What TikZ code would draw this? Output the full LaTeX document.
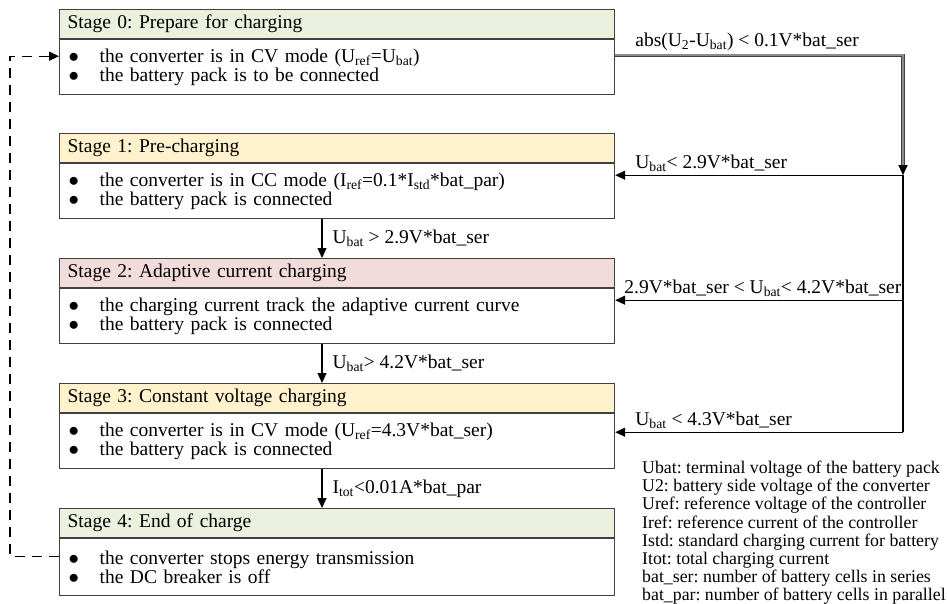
\documentclass[tikz,border=0pt]{standalone}
\usepackage{fontspec}
\setmainfont{Liberation Serif}
\usetikzlibrary{arrows.meta,calc}
\definecolor{hgreen}{RGB}{235,241,222}
\definecolor{hyellow}{RGB}{255,242,204}
\definecolor{hpink}{RGB}{242,220,219}
\definecolor{boxc}{RGB}{64,64,64}
\newcommand{\sbs}[1]{\textsubscript{#1}}
\newcommand{\bl}{\hspace*{9pt}\makebox[31pt][l]{$\bullet$}}
\frenchspacing
\begin{document}
\begin{tikzpicture}[x=1pt,y=-1pt,
  every node/.style={font=\fontsize{19.5}{19.3}\selectfont},
  hdr/.style={draw=boxc, line width=1.2pt, anchor=north west, minimum width=555pt,
    minimum height=29pt, text width=539pt, inner xsep=8pt, inner ysep=0pt, align=left},
  bdy/.style={draw=boxc, line width=1.2pt, anchor=north, minimum width=555pt,
    minimum height=55pt, text width=555pt, inner xsep=0pt, inner ysep=0pt, align=left, fill=white},
  arr/.style={line width=1.2pt, -{Triangle[length=10pt,width=9pt]}},
  conn/.style={line width=1.2pt},
  dbl/.style={draw=black!75, line width=0.9pt, double=black!45, double distance=1.4pt},
  dsh/.style={line width=1.2pt, dash pattern=on 10pt off 7pt},
  lbl/.style={inner sep=2pt},
]
\useasboundingbox (0,0) rectangle (947,604);

% Stage 0
\node[hdr, fill=hgreen] (h0) at (59,9) {Stage 0: Prepare for charging};
\node[bdy] (b0) at (h0.south) {\bl the converter is in CV mode (U\sbs{ref}=U\sbs{bat})\\\bl the battery pack is to be connected};
% Stage 1
\node[hdr, fill=hyellow] (h1) at (59,133) {Stage 1: Pre-charging};
\node[bdy] (b1) at (h1.south) {\bl the converter is in CC mode (I\sbs{ref}=0.1*I\sbs{std}*bat\_par)\\\bl the battery pack is connected};
% Stage 2
\node[hdr, fill=hpink] (h2) at (59,258) {Stage 2: Adaptive current charging};
\node[bdy] (b2) at (h2.south) {\bl the charging current track the adaptive current curve\\\bl the battery pack is connected};
% Stage 3
\node[hdr, fill=hyellow] (h3) at (59,383) {Stage 3: Constant voltage charging};
\node[bdy] (b3) at (h3.south) {\bl the converter is in CV mode (U\sbs{ref}=4.3V*bat\_ser)\\\bl the battery pack is connected};
% Stage 4
\node[hdr, fill=hgreen] (h4) at (59,508) {Stage 4: End of charge};
\node[bdy, minimum height=57pt] (b4) at (h4.south) {\bl the converter stops energy transmission\\\bl the DC breaker is off};

% vertical connectors
\coordinate (cx) at (322,0);
\draw[arr] (b1.south -| cx) -- node[lbl, anchor=west, xshift=8pt] {U\sbs{bat} > 2.9V*bat\_ser} (h2.north -| cx);
\draw[arr] (b2.south -| cx) -- node[lbl, anchor=west, xshift=8pt] {U\sbs{bat}> 4.2V*bat\_ser} (h3.north -| cx);
\draw[arr] (b3.south -| cx) -- node[lbl, anchor=west, xshift=8pt] {I\sbs{tot}<0.01A*bat\_par} (h4.north -| cx);

% right side connectors
\coordinate (rx) at (903,0);
\coordinate (e0) at ([yshift=-16pt]b0.north east);
\coordinate (e1) at ([yshift=-12pt]b1.north east);
\coordinate (e2) at ([yshift=-12pt]b2.north east);
\coordinate (e3) at ([yshift=-19pt]b3.north east);
\coordinate (j0) at (rx |- e0);
\coordinate (j1) at (rx |- e1);
\coordinate (j2) at (rx |- e2);
\coordinate (j3) at (rx |- e3);
\coordinate (j1a) at ([yshift=9pt]j1);
\coordinate (j1b) at ([yshift=10pt]j1);

\draw[dbl] (e0) -- (j0) -- (j1a);
\node[lbl, anchor=south west] (l0) at ([xshift=18pt, yshift=2pt]e0) {abs(U\sbs{2}-U\sbs{bat}) < 0.1V*bat\_ser};
\draw[arr] (j1b) -- (j1);
\draw[conn] (j1) -- (j3);
\draw[arr] (j1) -- (e1);
\node[lbl, anchor=south west] (l1) at ([xshift=18pt, yshift=1pt]e1) {U\sbs{bat}< 2.9V*bat\_ser};
\draw[arr] (j2) -- (e2);
\node[lbl, anchor=south west] (l2) at ([xshift=7pt, yshift=1pt]e2) {2.9V*bat\_ser < U\sbs{bat}< 4.2V*bat\_ser};
\draw[arr] (j3) -- (e3);
\node[lbl, anchor=south west] (l3) at ([xshift=18pt, yshift=1pt]e3) {U\sbs{bat} < 4.3V*bat\_ser};

% dashed feedback
\coordinate (dx) at (10,0);
\coordinate (d4) at ([yshift=-18pt]b4.north west);
\coordinate (d0) at ([yshift=-17pt]b0.north west);
\draw[dsh, arr, dash pattern=on 10pt off 7pt] (d4) -- (dx |- d4) -- (dx |- d0) -- (d0);

% legend
\node[anchor=north west, inner sep=0pt, align=left, font=\fontsize{17.8}{18.1}\selectfont] (leg) at (642,461)
{Ubat: terminal voltage of the battery pack\\
U2: battery side voltage of the converter\\
Uref: reference voltage of the controller\\
Iref: reference current of the controller\\
Istd: standard charging current for battery\\
Itot: total charging current\\
bat\_ser: number of battery cells in series\\
bat\_par: number of battery cells in parallel};
\end{tikzpicture}
\end{document}
